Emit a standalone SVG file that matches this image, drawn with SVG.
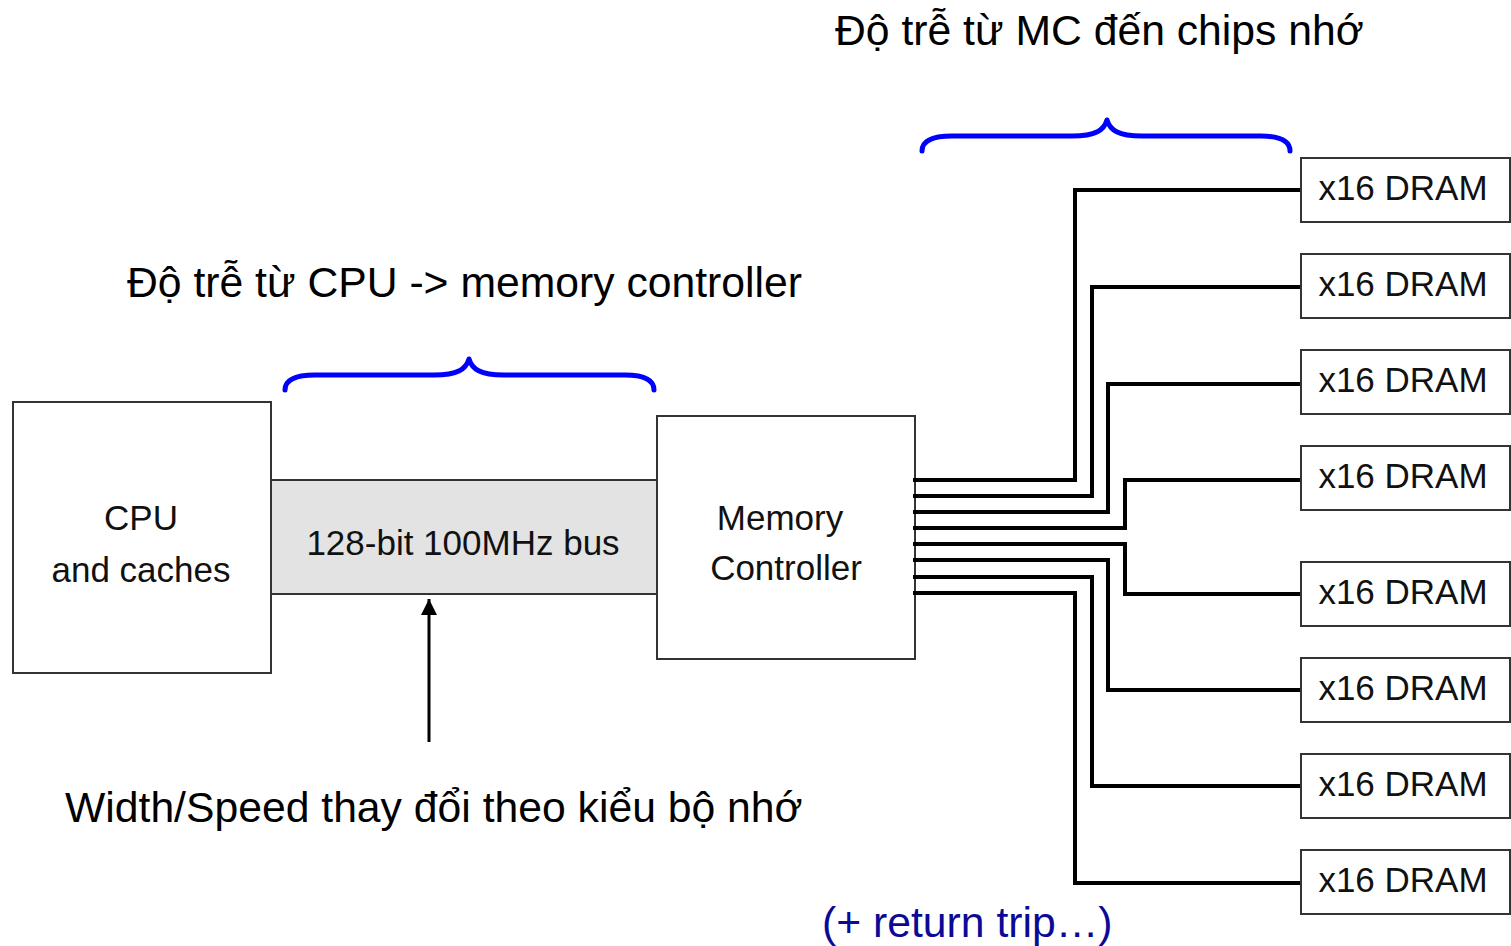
<svg xmlns="http://www.w3.org/2000/svg" width="1511" height="946" viewBox="0 0 1511 946">
<style>
text{font-family:"Liberation Sans",Arial,sans-serif;fill:#000}
.big{font-size:42.7px}
.box{fill:#fff;stroke:#333;stroke-width:2}
.lbl{font-size:35px;text-anchor:middle;fill:#111}
.brace{fill:none;stroke:#0000ff;stroke-width:5;stroke-linecap:round;stroke-linejoin:round}
.wire{fill:none;stroke:#000;stroke-width:4;stroke-linejoin:miter}
</style>
<defs>
<marker id="ah" viewBox="0 0 16 16" refX="16" refY="8" markerWidth="16" markerHeight="16" markerUnits="userSpaceOnUse" orient="auto">
<path d="M0,0 L16,8 L0,16 Z" fill="#000"/>
</marker>
</defs>
<rect width="1511" height="946" fill="#fff"/>

<g id="title-mc"><text class="big" x="835" y="45">Độ trễ từ MC đến chips nhớ</text></g>
<g id="title-cpu"><text class="big" x="127" y="297">Độ trễ từ CPU -&gt; memory controller</text></g>
<g id="note-width"><text class="big" x="65" y="822">Width/Speed thay đổi theo kiểu bộ nhớ</text></g>
<g id="note-return"><text class="big" x="822" y="937" style="fill:#0a0a96">(+ return trip…)</text></g>

<g id="brace-mc"><path class="brace" d="M922,151 C922,141 933,136 952,136 L1072,136 C1096,136 1104,130 1107,120 C1110,130 1118,136 1142,136 L1261,136 C1280,136 1290,141 1290,151"/></g>
<g id="brace-cpu"><path class="brace" d="M285,390 C285,380 296,375 315,375 L434,375 C458,375 466,369 469,359 C472,369 480,375 504,375 L625,375 C644,375 654,380 654,390"/></g>

<g id="cpu">
<rect class="box" x="13" y="402" width="258" height="271"/>
<text class="lbl" x="141" y="530">CPU</text>
<text class="lbl" x="141" y="582">and caches</text>
</g>
<g id="bus">
<rect x="271" y="480" width="386" height="114" fill="#e3e3e3" stroke="#333" stroke-width="2"/>
<text class="lbl" x="463" y="555">128-bit 100MHz bus</text>
</g>
<g id="mc">
<rect class="box" x="657" y="416" width="258" height="243"/>
<text class="lbl" x="780" y="530">Memory</text>
<text class="lbl" x="786" y="580">Controller</text>
</g>

<g id="connectors">
<path class="wire" d="M913,480 H1075 V190 H1301"/>
<path class="wire" d="M913,496 H1092 V287 H1301"/>
<path class="wire" d="M913,512 H1108 V384 H1301"/>
<path class="wire" d="M913,528 H1125 V480 H1301"/>
<path class="wire" d="M913,544 H1125 V594 H1301"/>
<path class="wire" d="M913,560 H1108 V690 H1301"/>
<path class="wire" d="M913,577 H1092 V786 H1301"/>
<path class="wire" d="M913,593 H1075 V883 H1301"/>
<line x1="429" y1="742" x2="429" y2="599" stroke="#000" stroke-width="3" marker-end="url(#ah)"/>
</g>

<g id="dram1"><rect class="box" x="1301" y="158" width="209" height="64"/><text class="lbl" x="1403" y="200">x16 DRAM</text></g>
<g id="dram2"><rect class="box" x="1301" y="254" width="209" height="64"/><text class="lbl" x="1403" y="296">x16 DRAM</text></g>
<g id="dram3"><rect class="box" x="1301" y="350" width="209" height="64"/><text class="lbl" x="1403" y="392">x16 DRAM</text></g>
<g id="dram4"><rect class="box" x="1301" y="446" width="209" height="64"/><text class="lbl" x="1403" y="488">x16 DRAM</text></g>
<g id="dram5"><rect class="box" x="1301" y="562" width="209" height="64"/><text class="lbl" x="1403" y="604">x16 DRAM</text></g>
<g id="dram6"><rect class="box" x="1301" y="658" width="209" height="64"/><text class="lbl" x="1403" y="700">x16 DRAM</text></g>
<g id="dram7"><rect class="box" x="1301" y="754" width="209" height="64"/><text class="lbl" x="1403" y="796">x16 DRAM</text></g>
<g id="dram8"><rect class="box" x="1301" y="850" width="209" height="64"/><text class="lbl" x="1403" y="892">x16 DRAM</text></g>
</svg>
